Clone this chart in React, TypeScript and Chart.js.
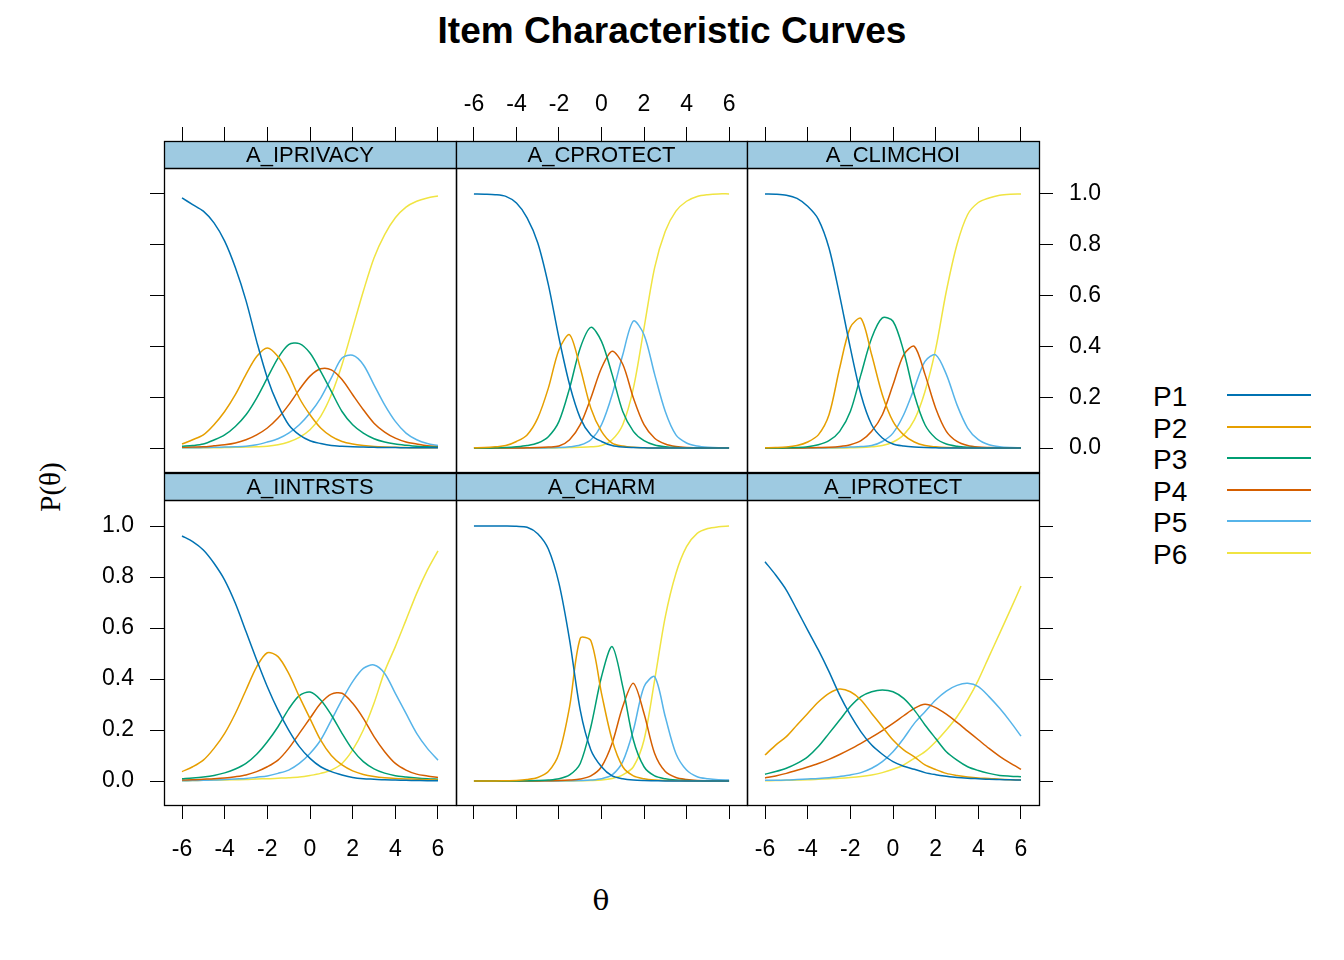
import React, { useEffect, useRef } from "react";
import { Chart, registerables } from "chart.js";
Chart.register(...registerables);

const theta = [-6,-5.5,-5,-4.5,-4,-3.5,-3,-2.5,-2,-1.5,-1,-0.5,0,0.5,1,1.5,2,2.5,3,3.5,4,4.5,5,5.5,6];
const xTicks = [-6,-4,-2,0,2,4,6];
const yTicks = [0,0.2,0.4,0.6,0.8,1.0];
const seriesNames = ["P1","P2","P3","P4","P5","P6"];
const seriesColors = ["#0072B2","#E69F00","#009E73","#D55E00","#56B4E9","#F0E442"];
const items = ["A_IPRIVACY","A_CPROTECT","A_CLIMCHOI","A_IINTRSTS","A_CHARM","A_IPROTECT"];

const iprivacy = [
  [0.984,0.958,0.932,0.886,0.814,0.71,0.58,0.42,0.276,0.17,0.092,0.052,0.029,0.018,0.01,0.007,0.005,0.004,0.003,0.002,0.002,0.001,0.001,0.001,0.001],
  [0.016,0.033,0.052,0.092,0.144,0.21,0.29,0.36,0.394,0.36,0.29,0.197,0.131,0.079,0.046,0.026,0.016,0.01,0.006,0.004,0.003,0.002,0.001,0.001,0.001],
  [0.007,0.01,0.016,0.032,0.052,0.085,0.131,0.197,0.276,0.354,0.407,0.411,0.374,0.302,0.223,0.144,0.092,0.059,0.037,0.024,0.016,0.011,0.007,0.005,0.003],
  [0.003,0.004,0.005,0.009,0.013,0.02,0.033,0.052,0.079,0.118,0.17,0.23,0.283,0.312,0.308,0.27,0.21,0.151,0.098,0.063,0.039,0.024,0.016,0.009,0.005],
  [0.001,0.001,0.002,0.003,0.004,0.005,0.007,0.013,0.024,0.037,0.059,0.092,0.138,0.197,0.276,0.354,0.365,0.328,0.249,0.17,0.105,0.059,0.033,0.018,0.01],
  [0.001,0.001,0.001,0.001,0.002,0.003,0.004,0.005,0.007,0.013,0.024,0.042,0.072,0.125,0.21,0.328,0.472,0.617,0.748,0.84,0.906,0.948,0.971,0.984,0.992],
];
const cprotect = [
  [1.0,0.999,0.997,0.99,0.964,0.906,0.808,0.643,0.433,0.249,0.118,0.052,0.026,0.01,0.004,0.002,0.001,0,0,0,0,0,0,0,0],
  [0.001,0.002,0.005,0.01,0.026,0.052,0.118,0.236,0.387,0.446,0.315,0.157,0.066,0.02,0.008,0.003,0.001,0,0,0,0,0,0,0,0],
  [0,0,0.001,0.002,0.005,0.01,0.02,0.045,0.105,0.236,0.394,0.475,0.42,0.29,0.144,0.066,0.029,0.012,0.005,0.002,0.001,0,0,0,0],
  [0,0,0,0,0,0.001,0.002,0.004,0.008,0.033,0.092,0.197,0.315,0.381,0.33,0.197,0.092,0.039,0.016,0.006,0.002,0.001,0,0,0],
  [0,0,0,0,0,0,0,0.001,0.002,0.005,0.012,0.033,0.092,0.21,0.367,0.5,0.446,0.29,0.144,0.052,0.02,0.008,0.003,0.001,0.001],
  [0,0,0,0,0,0,0,0,0.001,0.002,0.003,0.005,0.01,0.033,0.092,0.236,0.472,0.71,0.853,0.932,0.971,0.99,0.997,1.0,1.0],
];
const climchoi = [
  [1.0,0.999,0.995,0.982,0.951,0.9,0.787,0.6,0.394,0.21,0.092,0.04,0.016,0.008,0.004,0.002,0.001,0,0,0,0,0,0,0,0],
  [0.001,0.002,0.004,0.01,0.024,0.052,0.131,0.315,0.475,0.51,0.367,0.21,0.105,0.052,0.024,0.01,0.005,0.002,0.001,0,0,0,0,0,0],
  [0,0,0.001,0.002,0.005,0.013,0.029,0.066,0.144,0.29,0.433,0.512,0.499,0.381,0.21,0.092,0.039,0.016,0.007,0.003,0.001,0,0,0,0],
  [0,0,0,0,0.001,0.002,0.003,0.006,0.013,0.029,0.066,0.131,0.249,0.367,0.4,0.29,0.157,0.066,0.026,0.01,0.004,0.002,0.001,0,0],
  [0,0,0,0,0,0,0.001,0.002,0.004,0.006,0.01,0.026,0.059,0.131,0.236,0.341,0.367,0.29,0.17,0.079,0.033,0.013,0.005,0.002,0.001],
  [0,0,0,0,0,0,0,0,0.001,0.002,0.005,0.01,0.024,0.052,0.111,0.223,0.39,0.617,0.801,0.919,0.966,0.984,0.995,0.999,1.0],
];
const iintrsts = [
  [0.961,0.939,0.906,0.854,0.788,0.697,0.586,0.475,0.37,0.278,0.2,0.135,0.089,0.056,0.037,0.024,0.014,0.009,0.007,0.005,0.004,0.003,0.002,0.001,0.001],
  [0.037,0.056,0.082,0.128,0.187,0.265,0.357,0.448,0.503,0.488,0.422,0.331,0.245,0.16,0.1,0.063,0.04,0.026,0.018,0.013,0.01,0.008,0.007,0.005,0.004],
  [0.009,0.012,0.016,0.022,0.032,0.047,0.069,0.105,0.154,0.213,0.282,0.335,0.349,0.318,0.259,0.187,0.122,0.076,0.048,0.031,0.021,0.016,0.012,0.009,0.007],
  [0.004,0.005,0.007,0.009,0.012,0.017,0.024,0.037,0.056,0.082,0.128,0.187,0.246,0.305,0.341,0.344,0.305,0.246,0.174,0.115,0.069,0.043,0.027,0.02,0.014],
  [0.001,0.002,0.003,0.004,0.006,0.008,0.01,0.015,0.02,0.03,0.043,0.069,0.108,0.161,0.239,0.318,0.39,0.442,0.455,0.422,0.344,0.265,0.187,0.128,0.082],
  [0.001,0.002,0.003,0.004,0.004,0.005,0.006,0.008,0.009,0.011,0.013,0.016,0.022,0.03,0.043,0.069,0.122,0.2,0.305,0.43,0.527,0.631,0.736,0.827,0.903],
];
const charm = [
  [1,1,1,1,0.999,0.995,0.97,0.91,0.775,0.553,0.278,0.122,0.056,0.02,0.009,0.004,0.002,0.001,0,0,0,0,0,0,0],
  [0,0,0,0.001,0.002,0.006,0.014,0.037,0.108,0.292,0.56,0.55,0.344,0.161,0.056,0.02,0.009,0.004,0.002,0.001,0,0,0,0,0],
  [0,0,0,0,0,0.001,0.002,0.004,0.009,0.024,0.069,0.213,0.409,0.527,0.37,0.161,0.056,0.02,0.009,0.004,0.002,0.001,0,0,0],
  [0,0,0,0,0,0,0,0.001,0.002,0.004,0.008,0.02,0.056,0.148,0.292,0.383,0.265,0.108,0.037,0.014,0.006,0.002,0.001,0,0],
  [0,0,0,0,0,0,0,0,0,0.001,0.002,0.004,0.009,0.024,0.076,0.2,0.37,0.409,0.252,0.108,0.043,0.017,0.009,0.005,0.004],
  [0,0,0,0,0,0,0,0,0,0,0.001,0.002,0.004,0.01,0.024,0.056,0.161,0.396,0.644,0.814,0.919,0.971,0.99,0.997,1.0],
];
const iprotect = [
  [0.86,0.808,0.749,0.671,0.592,0.514,0.429,0.337,0.259,0.193,0.141,0.105,0.076,0.058,0.046,0.033,0.025,0.019,0.014,0.011,0.009,0.007,0.006,0.005,0.004],
  [0.102,0.141,0.174,0.22,0.265,0.31,0.344,0.361,0.35,0.318,0.265,0.213,0.161,0.122,0.095,0.063,0.045,0.03,0.022,0.016,0.012,0.01,0.007,0.005,0.004],
  [0.027,0.037,0.05,0.069,0.095,0.135,0.187,0.239,0.292,0.331,0.35,0.357,0.35,0.324,0.278,0.22,0.167,0.115,0.082,0.056,0.041,0.03,0.022,0.019,0.017],
  [0.012,0.02,0.03,0.042,0.055,0.069,0.085,0.104,0.125,0.148,0.172,0.198,0.226,0.256,0.285,0.301,0.288,0.262,0.23,0.196,0.162,0.128,0.097,0.07,0.046],
  [0.003,0.003,0.004,0.006,0.008,0.01,0.013,0.018,0.024,0.033,0.05,0.076,0.115,0.167,0.226,0.272,0.318,0.353,0.375,0.383,0.37,0.331,0.285,0.233,0.176],
  [0.001,0.002,0.003,0.004,0.005,0.007,0.009,0.011,0.014,0.018,0.024,0.033,0.046,0.063,0.089,0.115,0.154,0.2,0.252,0.318,0.396,0.488,0.579,0.671,0.765],
];
const panelData = [iprivacy, cprotect, climchoi, iintrsts, charm, iprotect];

const colLeft = [164, 456, 747];
const colW = [292, 291, 292];
const rowTop = [141, 473];
const rowH = [331, 332];
const M = 70;
const STRIP = 27;
const FONT = "Arial, 'Liberation Sans', sans-serif";

const sides = [
  { top: [true, false], left: [true, false], bottom: [false, false], right: [false, false] },
  { top: [true, true], left: [false, false], bottom: [false, false], right: [false, false] },
  { top: [true, false], left: [false, false], bottom: [false, false], right: [true, true] },
  { top: [false, false], left: [true, true], bottom: [true, true], right: [false, false] },
  { top: [false, false], left: [false, false], bottom: [true, false], right: [false, false] },
  { top: [false, false], left: [false, false], bottom: [true, true], right: [true, false] },
];

function axis(pos: string, horiz: boolean, ticksOn: boolean, labelsOn: boolean) {
  const vals = horiz ? xTicks : yTicks;
  return {
    type: "linear",
    position: pos,
    min: horiz ? -6.844 : -0.094,
    max: horiz ? 6.844 : 1.208,
    display: true,
    border: { display: false },
    grid: { display: ticksOn, drawOnChartArea: false, drawTicks: true, tickLength: 14, color: "#000", lineWidth: 1 },
    ticks: {
      color: labelsOn ? "#000" : "rgba(0,0,0,0)",
      font: { family: FONT, size: 23 },
      padding: horiz ? (pos === "top" ? 9 : 17) : 16,
      maxRotation: 0,
      autoSkip: false,
      callback: (v: number) => (horiz ? String(v) : Number(v).toFixed(1)),
    },
    afterBuildTicks: (s: any) => { s.ticks = vals.map((v) => ({ value: v })); },
    afterFit: (s: any) => { if (horiz) s.height = M; else s.width = M; },
  };
}

const stripPlugin = {
  id: "strip",
  beforeDatasetsDraw(chart: any) {
    const { ctx, chartArea: a } = chart;
    const title = chart.options.plugins.strip.title;
    ctx.save();
    ctx.fillStyle = "#9ECAE1";
    ctx.fillRect(a.left, a.top, a.right - a.left, STRIP);
    ctx.fillStyle = "#000";
    ctx.font = `22px ${FONT}`;
    ctx.textAlign = "center";
    ctx.textBaseline = "middle";
    ctx.fillText(title, (a.left + a.right) / 2, a.top + STRIP / 2 + 1);
    ctx.restore();
  },
  afterDraw(chart: any) {
    const { ctx, chartArea: a } = chart;
    ctx.save();
    ctx.strokeStyle = "#000";
    ctx.lineWidth = 1.3;
    ctx.strokeRect(Math.round(a.left) + 0.5, Math.round(a.top) + 0.5, Math.round(a.right - a.left), Math.round(a.bottom - a.top));
    ctx.beginPath();
    ctx.moveTo(a.left, Math.round(a.top + STRIP) + 0.5);
    ctx.lineTo(a.right, Math.round(a.top + STRIP) + 0.5);
    ctx.stroke();
    ctx.restore();
  },
};

function Panel({ idx }: { idx: number }) {
  const ref = useRef<HTMLCanvasElement>(null);
  const col = idx % 3, row = Math.floor(idx / 3);
  const w = colW[col] + 2 * M, h = rowH[row] + 2 * M;
  useEffect(() => {
    const s = sides[idx];
    const chart = new Chart(ref.current!, {
      type: "line",
      data: {
        datasets: panelData[idx].map((vals, k) => ({
          label: seriesNames[k],
          data: theta.map((t, i) => ({ x: t, y: vals[i] })),
          borderColor: seriesColors[k],
          borderWidth: 1.5,
          pointRadius: 0,
          tension: 0.3,
          xAxisID: "x",
          yAxisID: "y",
        })),
      },
      options: {
        animation: false,
        responsive: false,
        devicePixelRatio: 1,
        layout: { padding: 0 },
        plugins: { legend: { display: false }, tooltip: { enabled: false }, strip: { title: items[idx] } } as any,
        scales: {
          x: axis("bottom", true, s.bottom[0], s.bottom[1]),
          x2: axis("top", true, s.top[0], s.top[1]),
          y: axis("left", false, s.left[0], s.left[1]),
          y2: axis("right", false, s.right[0], s.right[1]),
        } as any,
      },
      plugins: [stripPlugin],
    } as any);
    return () => chart.destroy();
  }, [idx]);
  return (
    <canvas
      ref={ref}
      width={w}
      height={h}
      style={{ position: "absolute", left: colLeft[col] - M, top: rowTop[row] - M, width: w, height: h }}
    />
  );
}

export default function App() {
  return (
    <div style={{ position: "absolute", left: 0, top: 0, width: 1344, height: 960, background: "#fff", fontFamily: FONT }}>
      <div style={{ position: "absolute", left: 0, width: 1344, top: 9, textAlign: "center", fontWeight: "bold", fontSize: 37, lineHeight: "44px" }}>
        Item Characteristic Curves
      </div>
      {[0, 1, 2, 3, 4, 5].map((i) => <Panel key={i} idx={i} />)}
      <div style={{ position: "absolute", left: 501, width: 200, top: 883, textAlign: "center", fontFamily: "'DejaVu Serif', 'Liberation Serif', serif", fontSize: 28, lineHeight: "36px" }}>θ</div>
      <div style={{ position: "absolute", left: 50, top: 487, width: 0, height: 0 }}>
        <div style={{ position: "absolute", left: -100, top: -18, width: 200, textAlign: "center", transform: "rotate(-90deg)", fontFamily: "'Liberation Serif', serif", fontSize: 29, lineHeight: "36px", whiteSpace: "nowrap" }}>
          P(θ)
        </div>
      </div>
      {seriesNames.map((n, k) => (
        <div key={n} style={{ position: "absolute", left: 1153, top: 381 + k * 31.6, height: 32, width: 170 }}>
          <span style={{ position: "absolute", left: 0, top: 0, fontSize: 28, lineHeight: "32px" }}>{n}</span>
          <div style={{ position: "absolute", left: 74, top: 13, width: 84, height: 2, background: seriesColors[k] }} />
        </div>
      ))}
    </div>
  );
}
